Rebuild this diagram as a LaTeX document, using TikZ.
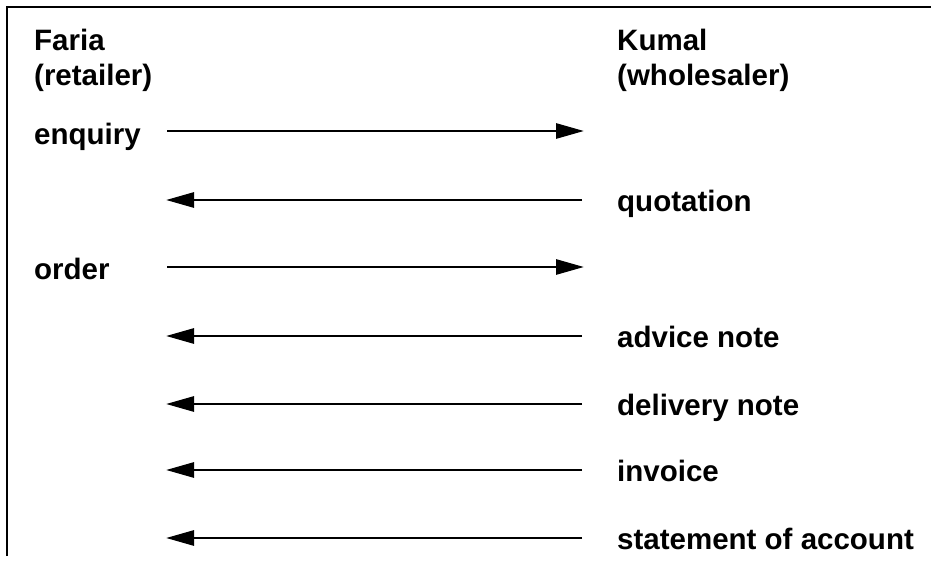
\documentclass[tikz,border=0pt]{standalone}
\usepackage{fontspec}
\setmainfont{Liberation Sans}
\usetikzlibrary{arrows.meta}

\tikzset{
  lbl/.style={anchor=base west, inner sep=0pt, font=\bfseries\fontsize{29.5}{34}\selectfont},
  msg/.style={line width=2.8pt, -{Triangle[length=28pt,width=15pt]}}
}

\begin{document}
\begin{tikzpicture}[x=1pt,y=-1pt]
\useasboundingbox (0,0) rectangle (931,563);
% frame
\draw[line width=1.5pt] (7,556) -- (7,7) -- (931,7);

% the two firms
\node[lbl] (faria) at (34,50) {Faria};
\node[lbl] (ret) at (34,85) {(retailer)};
\node[lbl] (kumal) at (617,50) {Kumal};
\node[lbl] (whole) at (617,85) {(wholesaler)};

% documents
\node[lbl] (enq) at (34,144) {enquiry};
\node[lbl] (quot) at (617,211) {quotation};
\node[lbl] (ord) at (34,279) {order};
\node[lbl] (adv) at (617,347) {advice note};
\node[lbl] (del) at (617,415) {delivery note};
\node[lbl] (inv) at (617,481) {invoice};
\node[lbl] (stat) at (617,549) {statement of account};

% arrow ends
\coordinate (l1) at (167,131); \coordinate (r1) at (584,131);
\coordinate (l2) at (166,200); \coordinate (r2) at (582,200);
\coordinate (l3) at (167,267); \coordinate (r3) at (584,267);
\coordinate (l4) at (166,336); \coordinate (r4) at (582,336);
\coordinate (l5) at (166,404); \coordinate (r5) at (582,404);
\coordinate (l6) at (166,470); \coordinate (r6) at (582,470);
\coordinate (l7) at (166,538); \coordinate (r7) at (582,538);

\draw[msg] (l1) -- (r1);
\draw[msg] (r2) -- (l2);
\draw[msg] (l3) -- (r3);
\draw[msg] (r4) -- (l4);
\draw[msg] (r5) -- (l5);
\draw[msg] (r6) -- (l6);
\draw[msg] (r7) -- (l7);
\end{tikzpicture}
\end{document}
